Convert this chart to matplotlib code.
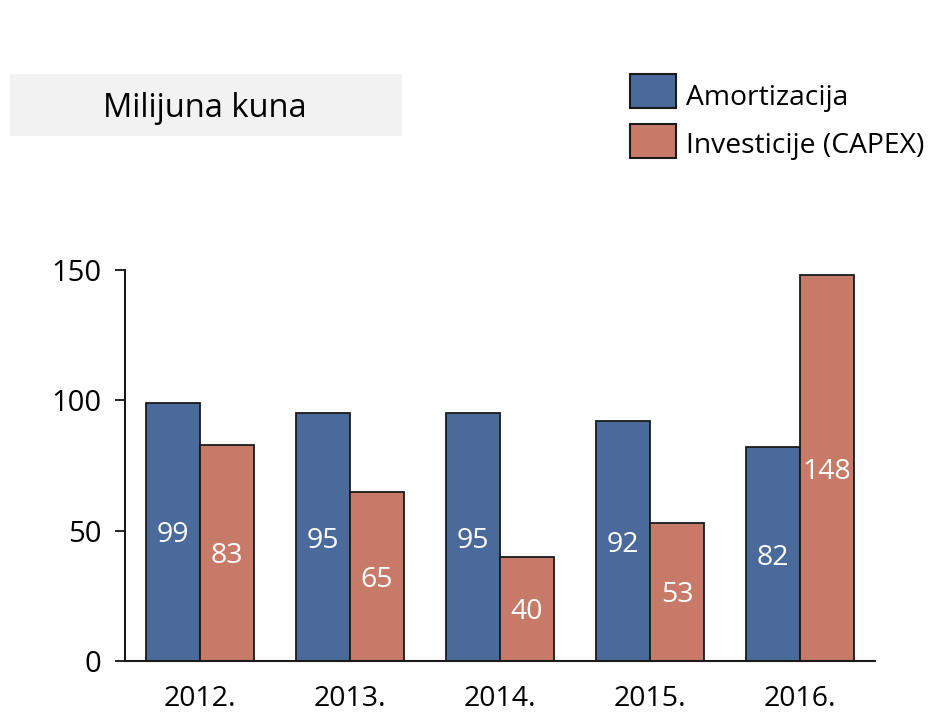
import matplotlib.pyplot as plt
import numpy as np
from matplotlib.patches import Rectangle

plt.rcParams['font.family'] = ['Open Sans', 'DejaVu Sans']

years = ['2012.', '2013.', '2014.', '2015.', '2016.']
amortizacija = [99, 95, 95, 92, 82]
investicije = [83, 65, 40, 53, 148]
series_names = ['Amortizacija', 'Investicije (CAPEX)']

blue = '#4A6A9B'
orange = '#C77A67'

fig = plt.figure(figsize=(9.3, 7.14), dpi=100)
ax = fig.add_axes([0.1344, 0.0742, 0.8065, 0.5476])

x = np.arange(len(years))
w = 0.36
b1 = ax.bar(x - w / 2, amortizacija, w, color=blue, edgecolor='#1a1a1a', linewidth=1.3)
b2 = ax.bar(x + w / 2, investicije, w, color=orange, edgecolor='#1a1a1a', linewidth=1.3)

for bars, vals in ((b1, amortizacija), (b2, investicije)):
    for r, v in zip(bars, vals):
        ax.text(r.get_x() + r.get_width() / 2, v / 2, str(v), ha='center',
                va='center_baseline', color='white', fontsize=20.5)

ax.set_xlim(-0.5, 4.5)
ax.set_ylim(0, 150)
ax.set_yticks([0, 50, 100, 150])
ax.set_xticks(x)
ax.set_xticklabels(years)
ax.tick_params(axis='y', labelsize=21, length=7, width=1.2, pad=10)
ax.tick_params(axis='x', labelsize=20.5, length=0, pad=17)
for s in ('top', 'right'):
    ax.spines[s].set_visible(False)
for s in ('left', 'bottom'):
    ax.spines[s].set_linewidth(1.5)
    ax.spines[s].set_color('#1a1a1a')

# title box
fig.patches.append(Rectangle((10 / 930, 1 - 136 / 714), 392 / 930, 62 / 714,
                             transform=fig.transFigure, facecolor='#F2F2F2',
                             edgecolor='none'))
fig.text(205 / 930, 1 - 117 / 714, 'Milijuna kuna', ha='center', va='baseline',
         fontsize=23.5)

# legend
baselines = [105, 153]
for i, (name, col) in enumerate(zip(series_names, [blue, orange])):
    y0 = 1 - (108 + i * 50) / 714
    fig.patches.append(Rectangle((630 / 930, y0), 46 / 930, 34 / 714,
                                 transform=fig.transFigure, facecolor=col,
                                 edgecolor='#1a1a1a', linewidth=1.5))
    fig.text(686 / 930, 1 - baselines[i] / 714, name, ha='left', va='baseline',
             fontsize=20.3)

fig.savefig('out.png', dpi=100)
